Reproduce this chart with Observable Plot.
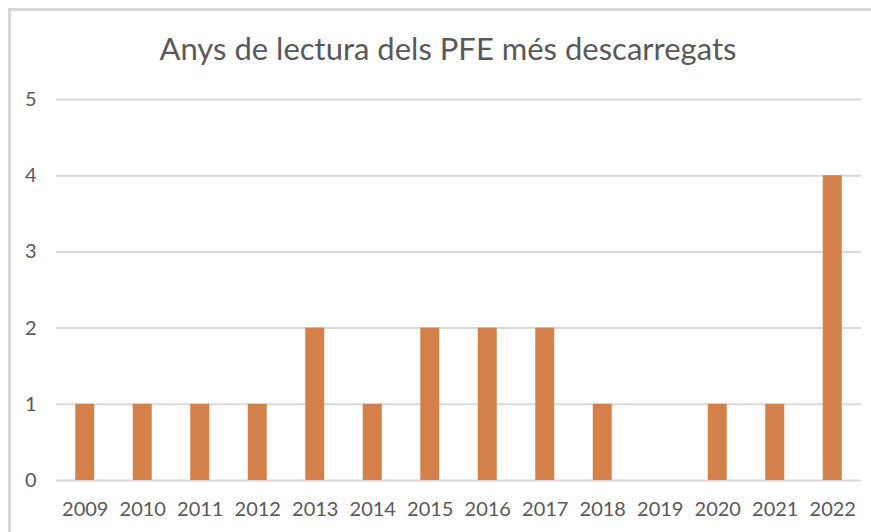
<!DOCTYPE html>
<html>
<head>
<meta charset="utf-8">
<script src="https://cdn.jsdelivr.net/npm/d3@7"></script>
<script src="https://cdn.jsdelivr.net/npm/@observablehq/plot@0.6"></script>
<style>
  body { margin: 0; background: #fff; }
  #wrap { position: relative; width: 871px; height: 532px; overflow: hidden; font-family: Lato, "Open Sans", sans-serif; }
  #frameL { position: absolute; left: 8px; top: 8px; width: 3px; height: 524px; background: #D9D9D9; }
  #frameT { position: absolute; left: 8px; top: 8px; width: 863px; height: 3px; background: #D9D9D9; }
  #title { position: absolute; left: 0; width: 896px; top: 29px; text-align: center; font-size: 31px; color: #595959; }
  #chart { position: absolute; left: 0; top: 0; }
</style>
</head>
<body>
<div id="wrap">
  <div id="frameL"></div>
  <div id="frameT"></div>
  <div id="title">Anys de lectura dels PFE més descarregats</div>
  <div id="chart"></div>
</div>
<script>
const years = ["2009","2010","2011","2012","2013","2014","2015","2016","2017","2018","2019","2020","2021","2022"];
const counts = [1,1,1,1,2,1,2,2,2,1,0,1,1,4];
const yTicks = [0,1,2,3,4,5];

const data = years.map((y, i) => ({year: y, count: counts[i]}));

const chart = Plot.plot({
  width: 871,
  height: 532,
  marginLeft: 56,
  marginRight: 10,
  marginTop: 99,
  marginBottom: 52,
  style: { fontFamily: "Lato, 'Open Sans', sans-serif", fontSize: "20px", color: "#595959", background: "transparent" },
  x: { domain: years, paddingInner: 0.67, paddingOuter: 0.335, round: false, label: null, tickSize: 0, tickPadding: 21 },
  y: { domain: [0, 5], ticks: yTicks, label: null, tickSize: 0, tickPadding: 20 },
  marks: [
    Plot.gridY(yTicks, { stroke: "#D9D9D9", strokeOpacity: 1, strokeWidth: 2 }),
    Plot.barY(data, { x: "year", y: "count", fill: "#D4804A" }),
    Plot.axisY(yTicks, { tickSize: 0, tickPadding: 20, fill: "#595959", tickFormat: "d" }),
    Plot.axisX({ tickSize: 0, tickPadding: 21, fill: "#595959" })
  ]
});
document.getElementById("chart").appendChild(chart);
</script>
</body>
</html>
